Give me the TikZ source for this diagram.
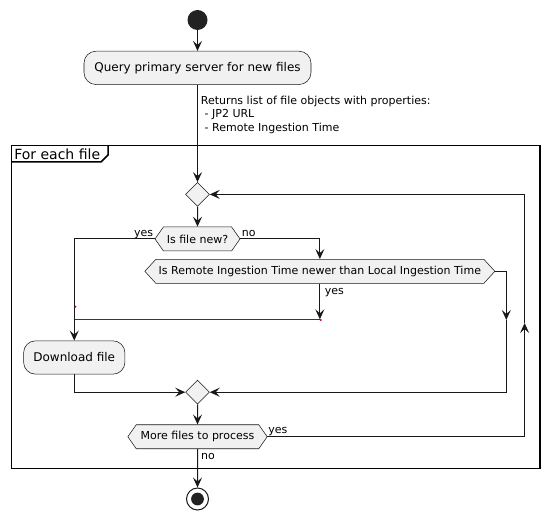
\documentclass[tikz,border=0pt]{standalone}
\usepackage{fontspec}
\setmainfont{DejaVu Sans}
\usetikzlibrary{arrows.meta,shapes.geometric,shapes.symbols,positioning}
\definecolor{actfill}{HTML}{F1F1F1}
\definecolor{actline}{HTML}{181818}
\definecolor{joinred}{HTML}{A80036}
\definecolor{dotblack}{HTML}{222222}
\begin{document}
\begin{tikzpicture}[x=0.75pt,y=-0.75pt,
    >={Stealth[length=7.5pt,width=6.75pt,inset=3pt]},
    flow/.style={->,draw=actline,line width=0.75pt},
    joinline/.style={draw=joinred,line width=0.75pt},
    frameline/.style={draw=black,line width=1.125pt},
    act/.style={rectangle,rounded corners=9pt,draw=actline,line width=0.4pt,fill=actfill,
      font=\fontsize{9}{11}\selectfont,minimum height=25pt,inner sep=0pt},
    cond/.style={signal,signal to=east and west,draw=actline,line width=0.4pt,fill=actfill,
      font=\fontsize{8.25}{10}\selectfont,minimum height=18pt,inner sep=0pt},
    merge/.style={diamond,draw=actline,line width=0.4pt,fill=actfill,minimum size=18pt,inner sep=0pt},
    startdot/.style={circle,fill=dotblack,minimum size=15pt,inner sep=0pt},
    stopdot/.style={circle,draw=actline,fill=white,line width=0.75pt,minimum size=16.5pt,inner sep=0pt,
      path picture={\fill[dotblack] (path picture bounding box.center) circle[radius=4.8pt];}},
    lbl/.style={font=\fontsize{8.25}{10.1}\selectfont,inner sep=0pt},
    yn/.style={lbl,text height=6.2pt,text depth=1.9pt},
  ]
          \useasboundingbox (0,0) rectangle (548,520);
          \draw[frameline] (11.6,145.7) rectangle (540,468.3);
          \draw[frameline] (11.6,162) -- (101,162) -- (108,155) -- (108,145.7);
          \node[anchor=west,inner sep=0pt,font=\fontsize{10.5}{12}\selectfont] (eachfile) at (14,153.8) {For each file};
          \node[startdot] (start) at (197.5,20) {};
          \node[act,minimum width=170.25pt,below=15.5pt of start] (query) {Query primary server for new files};
          \node[merge,below=73pt of query] (loop) {};
          \node[cond,minimum width=63.75pt,signal pointer angle=110,below=15pt of loop] (newq) {Is file new?};
          \node[cond,minimum width=262.5pt,signal pointer angle=95] (remq) at (319.85,271.3) {Is Remote Ingestion Time newer than Local Ingestion Time};
          \node[act,minimum width=76pt] (download) at (74.25,357.5) {Download file};
          \node[merge] (merge2) at (197.5,392.2) {};
          \node[cond,minimum width=104.5pt,signal pointer angle=110,below=15pt of merge2] (moreq) {More files to process};
          \node[stopdot] (stop) at (197.5,499) {};
          \coordinate (join) at (74.25,319.3);
          \coordinate (skip) at (506.3,320);
          \coordinate (again) at (524.6,323);
          \node[lbl,anchor=north west,align=left] (props) at (200.7,95.8) {Returns list of file objects with properties:\\\hspace{2.8pt}- JP2 URL\\\hspace{2.8pt}- Remote Ingestion Time};
          \draw[flow] (start) -- (query);
          \draw[flow] (query) -- (loop);
          \draw[flow] (loop) -- (newq);
          \draw[joinline] (join) -- (remq.south |- join);
          \draw[flow] (newq.west) -| (download.north);
          \draw[flow] (newq.east) -| (remq.north);
          \draw[flow] (remq.south) -- (remq.south |- join);
          \draw[flow] (remq.east) -| (skip);
          \draw[flow] (skip) |- (merge2.east);
          \draw[flow] (download.south) |- (merge2.west);
          \draw[flow] (merge2) -- (moreq);
          \draw[flow] (moreq.east) -| (again);
          \draw[flow] (again) |- (loop.east);
          \draw[flow] (moreq) -- (stop);
          \fill[joinred] (75.4,306.7) circle[radius=0.8pt];
          \fill[joinred] (320.7,320) circle[radius=0.8pt];
          \node[yn,anchor=south east] (newqyes) at ([xshift=-1pt]newq.west) {yes};
          \node[yn,anchor=south west] (newqno) at ([xshift=1pt]newq.east) {no};
          \node[yn,anchor=north west] (remqyes) at ([xshift=3.5pt,yshift=-1.5pt]remq.south) {yes};
          \node[yn,anchor=south west] (moreqyes) at ([xshift=0.5pt]moreq.east) {yes};
          \node[yn,anchor=north west] (moreqno) at ([xshift=2.6pt,yshift=-1.5pt]moreq.south) {no};
        \end{tikzpicture}
\end{document}
